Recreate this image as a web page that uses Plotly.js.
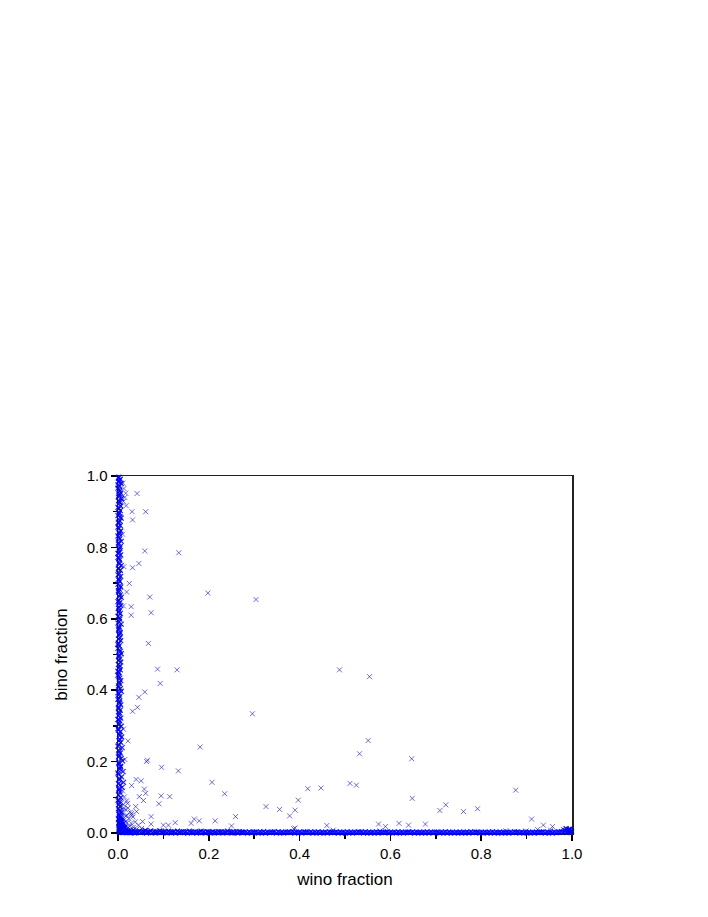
<!DOCTYPE html>
<html>
<head>
<meta charset="utf-8">
<script src="https://cdn.plot.ly/plotly-3.0.1.min.js"></script>
<style>
  html, body { margin: 0; padding: 0; background: #fff; }
  #chart { width: 708px; height: 917px; }
</style>
</head>
<body>
<div id="chart"></div>
<script>
// points hugging the bino axis (wino fraction ~ 0)
var leftX = [
  0.002,0.005,0.001,0.007,0.003,0.000,0.004,0.006,0.002,0.008,
  0.001,0.004,0.006,0.002,0.005,0.003,0.000,0.007,0.004,0.001,
  0.005,0.002,0.006,0.003,0.000,0.004,0.007,0.001,0.005,0.002,
  0.003,0.006,0.000,0.004,0.002,0.007,0.001,0.005,0.003,0.006,
  0.002,0.004,0.000,0.006,0.003,0.001,0.005,0.007,0.002,0.004,
  0.006,0.001,0.003,0.005,0.000,0.004,0.002,0.007,0.003,0.001,
  0.005,0.002,0.004,0.006,0.001,0.003,0.000,0.005,0.007,0.002,
  0.004,0.006,0.001,0.003,0.005,0.002,0.000,0.004,0.006,0.003,
  0.001,0.005,0.007,0.002,0.004,0.000,0.003,0.006,0.001,0.005,
  0.003,0.001,0.006,0.004,0.002,0.007,0.000,0.005,0.003,0.008,
  0.004,0.006,0.002,0.009,0.001,0.005,0.003,0.007,0.010,0.002,
  0.006,0.004,0.011,0.001,0.008,0.003,0.012,0.005,0.009,0.002
];
var leftY = [
  0.997,0.991,0.984,0.979,0.971,0.966,0.958,0.952,0.946,0.937,
  0.931,0.925,0.916,0.909,0.903,0.897,0.889,0.882,0.874,0.868,
  0.861,0.853,0.846,0.838,0.832,0.824,0.817,0.809,0.802,0.794,
  0.787,0.779,0.772,0.765,0.757,0.749,0.742,0.736,0.727,0.719,
  0.712,0.705,0.697,0.689,0.683,0.675,0.667,0.660,0.652,0.645,
  0.637,0.629,0.622,0.615,0.607,0.599,0.592,0.585,0.577,0.569,
  0.562,0.555,0.547,0.539,0.532,0.524,0.517,0.509,0.502,0.494,
  0.487,0.479,0.472,0.464,0.457,0.449,0.442,0.434,0.427,0.419,
  0.412,0.404,0.397,0.389,0.382,0.374,0.367,0.359,0.352,0.344,
  0.337,0.329,0.322,0.314,0.307,0.299,0.292,0.284,0.277,0.269,
  0.262,0.254,0.247,0.239,0.232,0.224,0.217,0.209,0.202,0.194,
  0.187,0.179,0.172,0.164,0.157,0.149,0.142,0.135,0.128,0.121
];
var leftX2 = [
  0.001,0.003,0.000,0.002,0.004,0.001,0.003,0.000,0.002,0.005,
  0.001,0.000,0.003,0.002,0.001,0.004,0.000,0.002,0.003,0.001,
  0.000,0.002,0.004,0.001,0.003,0.000,0.002,0.001,0.003,0.000,
  0.002,0.004,0.001,0.000,0.003,0.002,0.001,0.004,0.000,0.002,
  0.003,0.001,0.000,0.002,0.004,0.001,0.003,0.000,0.002,0.001,
  0.004,0.002,0.000,0.003,0.001,0.002,0.005,0.000,0.003,0.001,
  0.002,0.004,0.001,0.006,0.000,0.003,0.002,0.005,0.001,0.004,
  0.007,0.002,0.003,0.006,0.001,0.008,0.004,0.002,0.009,0.005,
  0.003,0.010,0.006,0.002,0.012,0.004,0.008,0.014,0.003,0.011
];
var leftY2 = [
  0.994,0.987,0.975,0.962,0.949,0.941,0.928,0.912,0.894,0.885,
  0.871,0.857,0.842,0.828,0.813,0.798,0.783,0.769,0.753,0.739,
  0.723,0.708,0.693,0.679,0.663,0.648,0.633,0.618,0.603,0.588,
  0.573,0.558,0.543,0.528,0.513,0.498,0.483,0.468,0.453,0.438,
  0.423,0.408,0.393,0.378,0.363,0.348,0.333,0.318,0.303,0.288,
  0.273,0.258,0.243,0.228,0.213,0.198,0.183,0.168,0.153,0.138,
  0.124,0.115,0.107,0.099,0.092,0.086,0.080,0.074,0.068,0.062,
  0.057,0.052,0.047,0.043,0.039,0.035,0.031,0.027,0.024,0.021,
  0.018,0.015,0.013,0.011,0.009,0.007,0.005,0.004,0.003,0.002
];

// points hugging the wino axis (bino fraction ~ 0)
var bottomX = [
  0.021,0.028,0.034,0.041,0.047,0.053,0.060,0.066,0.072,0.079,
  0.085,0.092,0.098,0.105,0.111,0.118,0.124,0.131,0.137,0.144,
  0.150,0.157,0.163,0.170,0.176,0.183,0.189,0.196,0.202,0.209,
  0.215,0.222,0.228,0.235,0.241,0.248,0.254,0.261,0.267,0.274,
  0.281,0.289,0.297,0.305,0.313,0.321,0.329,0.337,0.345,0.353,
  0.361,0.369,0.377,0.385,0.393,0.401,0.409,0.417,0.425,0.433,
  0.441,0.449,0.457,0.465,0.473,0.481,0.489,0.497,0.505,0.513,
  0.521,0.529,0.537,0.545,0.553,0.561,0.569,0.577,0.585,0.593,
  0.601,0.609,0.617,0.625,0.633,0.641,0.649,0.657,0.665,0.673,
  0.681,0.689,0.697,0.705,0.713,0.721,0.729,0.737,0.745,0.753,
  0.761,0.769,0.777,0.785,0.793,0.801,0.809,0.817,0.825,0.833,
  0.841,0.849,0.857,0.865,0.873,0.881,0.889,0.897,0.905,0.913,
  0.921,0.929,0.937,0.945,0.953,0.961,0.969,0.977,0.985,0.993
];
var bottomY = [
  0.006,0.003,0.008,0.002,0.005,0.004,0.007,0.003,0.006,0.004,
  0.003,0.006,0.002,0.004,0.005,0.002,0.004,0.005,0.002,0.004,
  0.003,0.005,0.002,0.004,0.002,0.005,0.003,0.004,0.002,0.004,
  0.002,0.004,0.003,0.002,0.005,0.002,0.004,0.003,0.004,0.002,
  0.002,0.003,0.002,0.003,0.002,0.004,0.002,0.002,0.003,0.003,
  0.002,0.002,0.003,0.003,0.002,0.002,0.003,0.002,0.003,0.002,
  0.003,0.002,0.002,0.003,0.002,0.003,0.002,0.002,0.003,0.002,
  0.002,0.003,0.002,0.003,0.002,0.002,0.003,0.002,0.002,0.003,
  0.002,0.002,0.003,0.002,0.002,0.002,0.003,0.002,0.002,0.002,
  0.003,0.002,0.002,0.002,0.002,0.003,0.002,0.002,0.002,0.002,
  0.002,0.002,0.003,0.002,0.002,0.002,0.002,0.002,0.003,0.002,
  0.002,0.002,0.002,0.002,0.003,0.002,0.002,0.002,0.002,0.002,
  0.002,0.002,0.003,0.002,0.002,0.003,0.002,0.004,0.005,0.003
];
var bottomX2 = [
  0.016,0.025,0.031,0.037,0.044,0.050,0.057,0.063,0.069,0.076,
  0.082,0.088,0.095,0.101,0.108,0.114,0.121,0.127,0.134,0.140,
  0.147,0.153,0.160,0.166,0.173,0.179,0.186,0.192,0.199,0.205,
  0.212,0.218,0.225,0.231,0.238,0.244,0.251,0.257,0.264,0.271,
  0.277,0.285,0.293,0.301,0.309,0.317,0.325,0.333,0.341,0.349,
  0.357,0.365,0.373,0.381,0.389,0.397,0.405,0.413,0.421,0.429,
  0.437,0.445,0.453,0.461,0.469,0.477,0.485,0.493,0.501,0.509,
  0.517,0.525,0.533,0.541,0.549,0.557,0.565,0.573,0.581,0.589,
  0.597,0.605,0.613,0.621,0.629,0.637,0.645,0.653,0.661,0.669,
  0.677,0.685,0.693,0.701,0.709,0.717,0.725,0.733,0.741,0.749,
  0.757,0.765,0.773,0.781,0.789,0.797,0.805,0.813,0.821,0.829,
  0.837,0.845,0.853,0.861,0.869,0.877,0.885,0.893,0.901,0.909,
  0.917,0.925,0.933,0.941,0.949,0.957,0.965,0.973,0.981,0.989,
  0.995,0.998,0.991,0.996,0.999,0.987,0.993,0.997,0.984,0.994
];
var bottomY2 = [
  0.002,0.001,0.003,0.000,0.002,0.001,0.003,0.000,0.002,0.001,
  0.000,0.002,0.001,0.003,0.000,0.001,0.002,0.000,0.001,0.003,
  0.001,0.000,0.002,0.001,0.000,0.002,0.001,0.000,0.002,0.001,
  0.000,0.001,0.002,0.000,0.001,0.002,0.000,0.001,0.000,0.002,
  0.001,0.000,0.001,0.002,0.000,0.001,0.000,0.001,0.002,0.000,
  0.001,0.000,0.002,0.001,0.000,0.001,0.000,0.002,0.001,0.000,
  0.001,0.000,0.001,0.000,0.002,0.001,0.000,0.001,0.000,0.001,
  0.000,0.001,0.002,0.000,0.001,0.000,0.001,0.000,0.001,0.002,
  0.000,0.001,0.000,0.001,0.000,0.002,0.001,0.000,0.001,0.000,
  0.001,0.000,0.001,0.002,0.000,0.001,0.000,0.001,0.000,0.001,
  0.000,0.001,0.000,0.001,0.002,0.000,0.001,0.000,0.001,0.000,
  0.001,0.000,0.001,0.000,0.001,0.002,0.000,0.001,0.000,0.001,
  0.000,0.001,0.002,0.000,0.001,0.000,0.001,0.002,0.003,0.001,
  0.006,0.004,0.008,0.010,0.005,0.012,0.009,0.003,0.007,0.011
];

// tight knot right at the origin
var knotX = [
  0.003,0.006,0.009,0.012,0.002,0.005,0.008,0.011,0.015,0.004,
  0.007,0.010,0.014,0.018,0.003,0.006,0.009,0.013,0.017,0.022,
  0.005,0.008,0.012,0.016,0.020,0.026,0.004,0.011,0.019,0.030
];
var knotY = [
  0.040,0.036,0.031,0.027,0.030,0.026,0.022,0.019,0.016,0.020,
  0.017,0.014,0.012,0.010,0.012,0.010,0.008,0.007,0.006,0.005,
  0.005,0.004,0.003,0.003,0.002,0.002,0.002,0.001,0.001,0.001
];

// scattered cloud near the origin
var cornerX = [
  0.010,0.006,0.014,0.004,0.019,0.008,0.012,0.003,0.022,0.016,
  0.007,0.027,0.011,0.004,0.018,0.033,0.009,0.024,0.014,0.005,
  0.038,0.020,0.029,0.011,0.045,0.007,0.016,0.034,0.023,0.052,
  0.004,0.013,0.041,0.027,0.060,0.009,0.019,0.031,0.048,0.070,
  0.002,0.015,0.024,0.037,0.056,0.006,0.011,0.043,0.083,0.095,
  0.003,0.002,0.005,0.001,0.013,0.017,0.026,0.009,0.030,0.021,
  0.008,0.005,0.012,0.003,0.007,0.010,0.004,0.006,0.015,0.002
];
var cornerY = [
  0.118,0.109,0.101,0.095,0.090,0.085,0.079,0.074,0.070,0.066,
  0.061,0.058,0.055,0.051,0.048,0.045,0.042,0.040,0.037,0.034,
  0.031,0.029,0.027,0.025,0.022,0.020,0.018,0.016,0.015,0.013,
  0.012,0.011,0.010,0.009,0.008,0.007,0.006,0.006,0.005,0.005,
  0.004,0.004,0.003,0.003,0.003,0.002,0.002,0.002,0.004,0.006,
  0.028,0.063,0.045,0.088,0.069,0.032,0.019,0.015,0.050,0.083,
  0.010,0.016,0.006,0.022,0.039,0.003,0.057,0.030,0.008,0.041
];

// isolated points
var scatX = [
  0.042,0.061,0.031,0.032,0.011,0.013,0.017,0.018,0.012,0.015,
  0.010,0.059,0.134,0.046,0.032,0.013,0.025,0.019,0.012,0.029,
  0.029,0.070,0.073,0.067,0.198,0.304,0.087,0.130,0.093,0.059,
  0.046,0.043,0.032,0.296,0.012,0.022,0.181,0.065,0.063,0.015,
  0.096,0.133,0.207,0.040,0.051,0.030,0.058,0.061,0.235,0.047,
  0.095,0.114,0.056,0.090,0.326,0.356,0.378,0.259,0.073,0.039,
  0.041,0.030,0.019,0.214,0.168,0.179,0.126,0.111,0.100,0.073,
  0.054,0.161,0.250,0.390,0.397,0.390,0.488,0.554,0.551,0.532,
  0.647,0.511,0.525,0.418,0.447,0.648,0.876,0.709,0.722,0.761,
  0.792,0.911,0.937,0.924,0.957,0.953,0.981,0.985,0.899,0.854,
  0.677,0.619,0.640,0.574,0.589,0.577,0.460,0.474,0.387
];
var scatY = [
  0.951,0.900,0.900,0.877,0.980,0.965,0.952,0.917,0.929,0.940,
  0.837,0.790,0.785,0.755,0.743,0.746,0.699,0.675,0.636,0.634,
  0.610,0.661,0.617,0.531,0.672,0.654,0.459,0.457,0.419,0.395,
  0.380,0.352,0.341,0.334,0.291,0.258,0.241,0.204,0.200,0.206,
  0.184,0.174,0.142,0.150,0.146,0.133,0.123,0.111,0.110,0.102,
  0.104,0.102,0.091,0.082,0.074,0.066,0.048,0.046,0.046,0.074,
  0.060,0.055,0.050,0.034,0.039,0.034,0.029,0.022,0.022,0.025,
  0.032,0.027,0.020,0.014,0.092,0.064,0.457,0.438,0.259,0.222,
  0.208,0.139,0.134,0.124,0.126,0.097,0.120,0.063,0.079,0.060,
  0.068,0.039,0.022,0.010,0.018,0.008,0.010,0.007,0.006,0.006,
  0.025,0.027,0.022,0.025,0.018,0.006,0.021,0.008,0.012
];

// where thousands of models pile up the crosses merge into solid blue
var dense = {
  x: leftX.concat(leftX2, bottomX, bottomX2, knotX),
  y: leftY.concat(leftY2, bottomY, bottomY2, knotY),
  mode: 'markers',
  type: 'scatter',
  cliponaxis: false,
  marker: {
    symbol: 'x-thin',
    size: 5,
    line: {width: 1.2, color: 'rgba(0,0,255,0.9)'},
    color: 'rgba(0,0,255,0.9)'
  },
  hoverinfo: 'x+y'
};

var sparse = {
  x: cornerX.concat(scatX),
  y: cornerY.concat(scatY),
  mode: 'markers',
  type: 'scatter',
  cliponaxis: false,
  marker: {
    symbol: 'x-thin',
    size: 5,
    line: {width: 1, color: 'rgba(10,10,255,0.6)'},
    color: 'rgba(10,10,255,0.6)'
  },
  hoverinfo: 'x+y'
};

var fam = 'Liberation Sans, Arial, sans-serif';

var axisBase = {
  range: [0, 1],
  dtick: 0.2,
  tickformat: '.1f',
  tickfont: {family: fam, size: 15, color: '#000'},
  ticks: 'outside',
  ticklen: 6,
  tickwidth: 1.5,
  tickcolor: '#000',
  minor: {ticks: 'outside', dtick: 0.1, ticklen: 4, tickwidth: 1.5, tickcolor: '#000'},
  showgrid: false,
  zeroline: false,
  showline: true,
  linecolor: '#222',
  linewidth: 1.5,
  mirror: true,
  layer: 'below traces',
  fixedrange: true
};

var layout = {
  width: 708,
  height: 917,
  margin: {l: 118, r: 136, t: 476, b: 84},
  paper_bgcolor: '#fff',
  plot_bgcolor: '#fff',
  showlegend: false,
  font: {family: fam, size: 15, color: '#000'},
  xaxis: Object.assign({}, axisBase, {
    title: {text: 'wino fraction', font: {family: fam, size: 17, color: '#000'}, standoff: 12}
  }),
  yaxis: Object.assign({}, axisBase, {
    title: {text: 'bino fraction', font: {family: fam, size: 17, color: '#000'}, standoff: 14}
  })
};

Plotly.newPlot('chart', [sparse, dense], layout, {displayModeBar: false, staticPlot: true});
</script>
</body>
</html>
